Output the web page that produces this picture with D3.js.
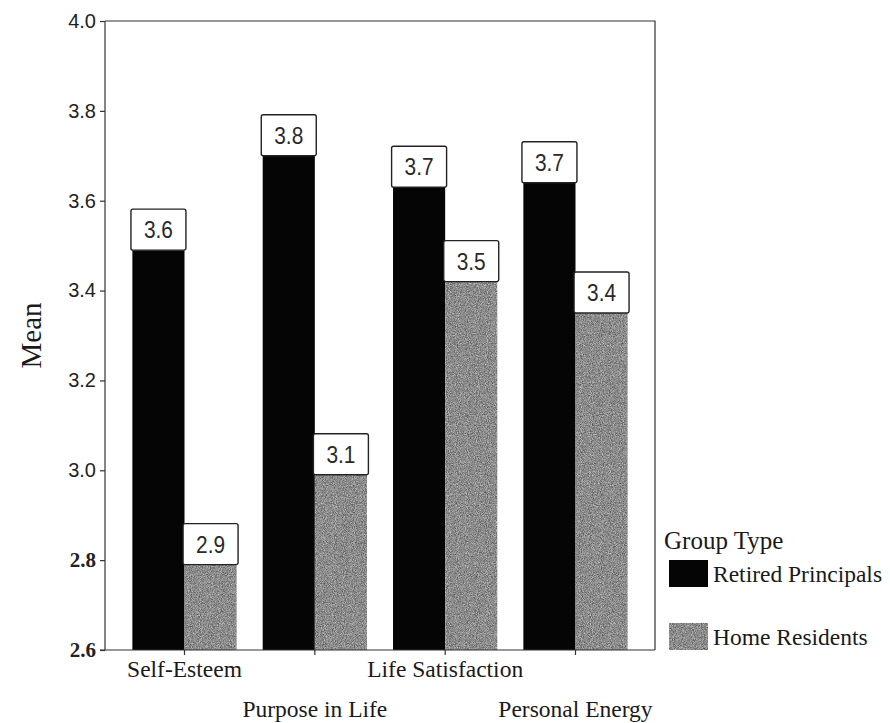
<!DOCTYPE html>
<html>
<head>
<meta charset="utf-8">
<script src="https://cdn.jsdelivr.net/npm/d3@7"></script>
<style>
  html, body { margin: 0; padding: 0; background: #fff; }
  svg { display: block; }
</style>
</head>
<body>
<div id="chart"></div>
<script>
// ---- data ----
const categories = ["Self-Esteem", "Purpose in Life", "Life Satisfaction", "Personal Energy"];
const seriesNames = ["Retired Principals", "Home Residents"];
const retiredMeans = [3.49, 3.70, 3.63, 3.64];
const homeMeans = [2.79, 2.99, 3.42, 3.35];
const retiredLabels = ["3.6", "3.8", "3.7", "3.7"];
const homeLabels = ["2.9", "3.1", "3.5", "3.4"];
const yTicks = [2.6, 2.8, 3.0, 3.2, 3.4, 3.6, 3.8, 4.0];
const yTitle = "Mean";
const legendTitle = "Group Type";

const W = 890, H = 723;
const plot = { left: 105, right: 655, top: 21, bottom: 650 };

const svg = d3.select("#chart").append("svg")
  .attr("width", W).attr("height", H);

const defs = svg.append("defs");
const f = defs.append("filter").attr("id", "grain")
  .attr("x", 0).attr("y", 0).attr("width", 1).attr("height", 1)
  .attr("color-interpolation-filters", "sRGB")
  .attr("filterUnits", "objectBoundingBox");
f.append("feTurbulence").attr("type", "fractalNoise")
  .attr("baseFrequency", 1.1).attr("numOctaves", 2).attr("seed", 4).attr("result", "n");
f.append("feColorMatrix").attr("in", "n").attr("type", "matrix")
  .attr("values", "0.65 0 0 0 0.22  0.65 0 0 0 0.22  0.65 0 0 0 0.22  0 0 0 0 1").attr("result", "g");
f.append("feComposite").attr("in", "g").attr("in2", "SourceGraphic").attr("operator", "in");

const y = d3.scaleLinear().domain([2.6, 4.0]).range([plot.bottom, plot.top]);
const x0 = d3.scaleBand().domain(categories).range([plot.left, plot.right])
  .paddingInner(0.2).paddingOuter(0.21);
const x1 = d3.scaleBand().domain(seriesNames).range([0, x0.bandwidth()]);

const rows = categories.map((c, i) => ({
  cat: c,
  vals: [
    { s: seriesNames[0], v: retiredMeans[i], lab: retiredLabels[i] },
    { s: seriesNames[1], v: homeMeans[i], lab: homeLabels[i] }
  ]
}));

// frame (top and right)
svg.append("path")
  .attr("d", `M${plot.left},${plot.top}H${plot.right}V${plot.bottom}`)
  .attr("fill", "none").attr("stroke", "#333").attr("stroke-width", 1.2);

// bars
const g = svg.append("g").selectAll("g").data(rows).join("g")
  .attr("transform", d => `translate(${x0(d.cat)},0)`);

g.selectAll("rect.bar").data(d => d.vals).join("rect")
  .attr("class", "bar")
  .attr("x", d => x1(d.s))
  .attr("y", d => y(d.v))
  .attr("width", x1.bandwidth())
  .attr("height", d => y(2.6) - y(d.v))
  .attr("fill", d => d.s === seriesNames[0] ? "#050505" : "#8a8a8a")
  .attr("filter", d => d.s === seriesNames[0] ? null : "url(#grain)");

// label boxes
const boxW = 55, boxH = 41;
const lg = g.selectAll("g.lab").data(d => d.vals).join("g").attr("class", "lab")
  .attr("transform", d => `translate(${x1(d.s) + x1.bandwidth() / 2},${y(d.v)})`);
lg.append("rect")
  .attr("x", -boxW / 2).attr("y", -boxH).attr("width", boxW).attr("height", boxH)
  .attr("rx", 2).attr("fill", "#fff").attr("stroke", "#222").attr("stroke-width", 1.4);
lg.append("text")
  .attr("x", 0).attr("y", -boxH / 2 + 8.5)
  .attr("text-anchor", "middle")
  .attr("font-family", "'Liberation Sans', Arial, sans-serif")
  .attr("font-size", 24)
  .attr("textLength", 29)
  .attr("lengthAdjust", "spacingAndGlyphs")
  .attr("fill", "#2a2a2a")
  .text(d => d.lab);

// y axis
const yAxis = d3.axisLeft(y).tickValues(yTicks).tickFormat(d3.format(".1f")).tickSize(5).tickPadding(4);
const ya = svg.append("g").attr("transform", `translate(${plot.left},0)`).call(yAxis);
ya.select(".domain").attr("stroke", "#333").attr("stroke-width", 1.2).attr("d", `M0,${plot.top}V${plot.bottom}`);
ya.selectAll(".tick line").attr("stroke", "#333").attr("stroke-width", 1.2);
ya.selectAll(".tick text")
  .attr("fill", "#222")
  .attr("font-size", d => d < 2.9 ? 21 : 20)
  .attr("font-family", d => d < 2.9 ? "'Liberation Serif', 'Times New Roman', serif" : "'Liberation Sans', Arial, sans-serif")
  .attr("font-weight", d => d < 2.9 ? "bold" : "normal");

// x axis
const xAxis = d3.axisBottom(x0).tickSize(5).tickFormat("");
const xa = svg.append("g").attr("transform", `translate(0,${plot.bottom})`).call(xAxis);
xa.select(".domain").attr("stroke", "#333").attr("stroke-width", 1.2).attr("d", `M${plot.left - 5},0H${plot.right}`);
xa.selectAll(".tick line").attr("stroke", "#333").attr("stroke-width", 1.2);

svg.append("g").selectAll("text").data(categories).join("text")
  .attr("x", d => x0(d) + x0.bandwidth() / 2)
  .attr("y", (d, i) => i % 2 === 0 ? 677 : 717)
  .attr("text-anchor", "middle")
  .attr("font-family", "'Liberation Serif', 'Times New Roman', serif")
  .attr("font-size", 23.5)
  .attr("fill", "#1a1a1a")
  .text(d => d);

// y title
svg.append("text")
  .attr("transform", `translate(41,${(plot.top + plot.bottom) / 2}) rotate(-90)`)
  .attr("text-anchor", "middle")
  .attr("font-family", "'Liberation Serif', 'Times New Roman', serif")
  .attr("font-size", 29)
  .attr("fill", "#1a1a1a")
  .text(yTitle);

// legend
svg.append("text")
  .attr("x", 664).attr("y", 549)
  .attr("font-family", "'Liberation Serif', 'Times New Roman', serif")
  .attr("font-size", 25)
  .attr("fill", "#1a1a1a")
  .text(legendTitle);

const leg = svg.append("g").selectAll("g").data(seriesNames).join("g")
  .attr("transform", (d, i) => `translate(669,${560 + i * 63})`);
leg.append("rect")
  .attr("width", 39).attr("height", 27)
  .attr("fill", (d, i) => i === 0 ? "#050505" : "#8a8a8a")
  .attr("filter", (d, i) => i === 0 ? null : "url(#grain)");
leg.append("text")
  .attr("x", 44).attr("y", 22)
  .attr("font-family", "'Liberation Serif', 'Times New Roman', serif")
  .attr("font-size", 23.5)
  .attr("fill", "#1a1a1a")
  .text(d => d);
</script>
</body>
</html>
